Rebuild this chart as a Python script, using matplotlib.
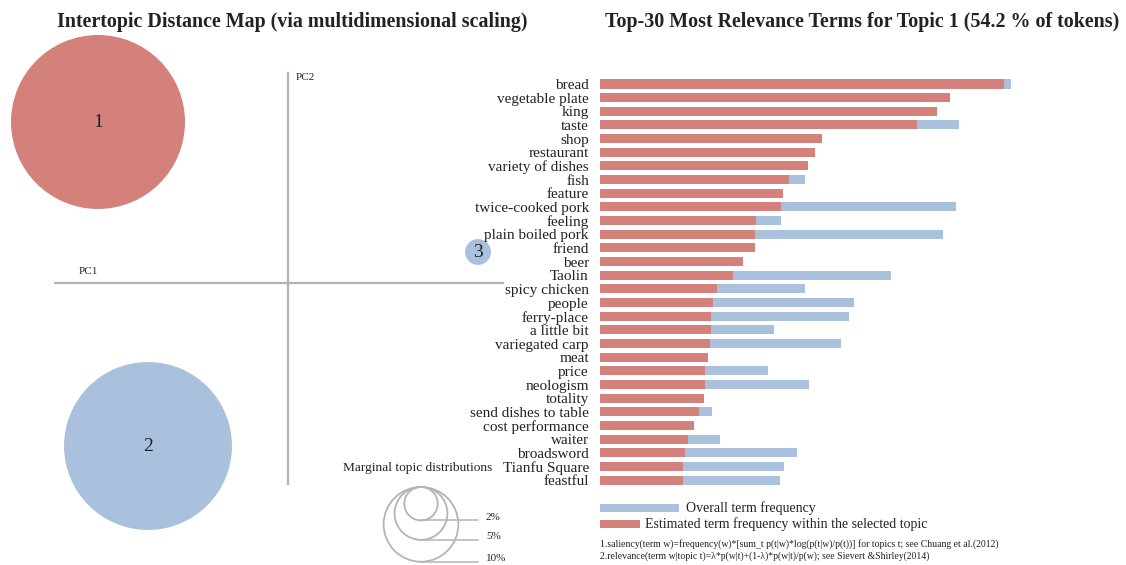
import numpy as np
import matplotlib
matplotlib.use('Agg')
from matplotlib import pyplot as plt
from matplotlib.patches import Circle, Rectangle

plt.rcParams['font.family'] = ['Liberation Serif', 'DejaVu Serif']

W, H = 1126, 565

# Topic positions on the first two principal components and their share of tokens (%)
topic_ids = [1, 2, 3]
pc1 = [-1.90, -1.40, 1.90]
pc2 = [1.61, -1.63, 0.31]
topic_share = [54.2, 50.5, 1.2]
legend_share = [2, 5, 10]

# Top-30 terms for topic 1
terms = ['bread', 'vegetable plate', 'king', 'taste', 'shop', 'restaurant',
         'variety of dishes', 'fish', 'feature', 'twice-cooked pork', 'feeling',
         'plain boiled pork', 'friend', 'beer', 'Taolin', 'spicy chicken', 'people',
         'ferry-place', 'a little bit', 'variegated carp', 'meat', 'price',
         'neologism', 'totality', 'send dishes to table', 'cost performance',
         'waiter', 'broadsword', 'Tianfu Square', 'feastful']
overall_freq = [411, 350, 337, 359, 222, 215, 208, 205, 183, 356, 181, 343, 155,
                143, 291, 205, 254, 249, 174, 241, 108, 168, 209, 104, 112, 94,
                120, 197, 184, 180]
topic_freq = [404, 350, 337, 317, 222, 215, 208, 189, 183, 181, 156, 155, 155,
              143, 133, 117, 113, 111, 111, 110, 108, 105, 105, 104, 99, 94,
              88, 85, 83, 83]

red = '#d5817b'
blue = '#a9c1dd'
grey = '#b4b4b4'
ink = '#222222'

fig = plt.figure(figsize=(W / 100, H / 100), dpi=100)
fig.patch.set_facecolor('white')

# ---- intertopic distance map ----
ax = fig.add_axes([0, 0, 560 / W, 540 / H])
ax.set_xlim(-2.88, 2.72)
ax.set_ylim(-2.82, 2.58)
ax.axis('off')

ax.plot([-2.33, 2.15], [0, 0], color=grey, lw=1.6, zorder=1)
ax.plot([0, 0], [-2.01, 2.10], color=grey, lw=1.6, zorder=1)
ax.text(-2.0, 0.12, 'PC1', fontsize=8, ha='center', va='center', color=ink)
ax.text(0.08, 2.06, 'PC2', fontsize=8, ha='left', va='center', color=ink)

scale = 0.87 / np.sqrt(topic_share[0])
colors = [red, blue, blue]
for tid, x, y, share, c in zip(topic_ids, pc1, pc2, topic_share, colors):
    r = scale * np.sqrt(share)
    ax.add_patch(Circle((x, y), r, facecolor=c, edgecolor='none', zorder=2))
    ax.text(x, y, str(tid), fontsize=14, ha='center', va='center', color=ink, zorder=3)

# marginal topic distribution guide
cx, top = 1.33, -2.04
ax.text(1.30, -1.85, 'Marginal topic distributions', fontsize=9.6,
        ha='center', va='center', color=ink)
for share in legend_share:
    r = scale * np.sqrt(share)
    ax.add_patch(Circle((cx, top - r), r, facecolor='none', edgecolor=grey, lw=1.3))
    ax.plot([cx, 1.90], [top - 2 * r, top - 2 * r], color=grey, lw=1.1)
    ax.text(1.98, top - 2 * r + 0.03, f'{share}%', fontsize=8, ha='left',
            va='center', color=ink)

fig.text(292 / W, 1 - 22 / H, 'Intertopic Distance Map (via multidimensional scaling)',
         fontsize=14.4, fontweight='bold', ha='center', va='center', color=ink)

# ---- relevance bar chart ----
row_top, row_step = 84, 13.66
y_top = row_top - row_step / 2
y_bot = row_top + row_step * (len(terms) - 0.5)
bx = fig.add_axes([600 / W, 1 - y_bot / H, 526 / W, (y_bot - y_top) / H])
bx.set_xlim(0, 526)
bx.set_ylim(len(terms) - 0.5, -0.5)
pos = np.arange(len(terms))
bx.barh(pos, overall_freq, height=0.66, color=blue)
bx.barh(pos, topic_freq, height=0.66, color=red)
bx.set_yticks(pos)
bx.set_yticklabels(terms, fontsize=11, color=ink)
bx.tick_params(axis='y', length=0, pad=8)
bx.set_xticks([])
for s in bx.spines.values():
    s.set_visible(False)
bx.patch.set_alpha(0)

fig.text(862 / W, 1 - 22 / H, 'Top-30 Most Relevance Terms for Topic 1 (54.2 % of tokens)',
         fontsize=14.4, fontweight='bold', ha='center', va='center', color=ink)

# legend swatches and footnotes
def swatch(x0, x1, yc, color):
    fig.add_artist(Rectangle((x0 / W, 1 - (yc + 4) / H), (x1 - x0) / W, 8 / H,
                             transform=fig.transFigure, facecolor=color, edgecolor='none'))

swatch(600, 679, 508, blue)
fig.text(686 / W, 1 - 508 / H, 'Overall term frequency', fontsize=10,
         ha='left', va='center', color=ink)
swatch(600, 640, 524, red)
fig.text(645 / W, 1 - 524 / H, 'Estimated term frequency within the selected topic',
         fontsize=10, ha='left', va='center', color=ink)
fig.text(600 / W, 1 - 544 / H,
         '1.saliency(term w)=frequency(w)*[sum_t p(t|w)*log(p(t|w)/p(t))] for topics t; see Chuang et al.(2012)',
         fontsize=7.05, ha='left', va='center', color=ink)
fig.text(600 / W, 1 - 556 / H,
         '2.relevance(term w|topic t)=\u03bb*p(w|t)+(1-\u03bb)*p(w|t)/p(w); see Sievert &Shirley(2014)',
         fontsize=7.05, ha='left', va='center', color=ink)

fig.savefig('out.png', dpi=100)
